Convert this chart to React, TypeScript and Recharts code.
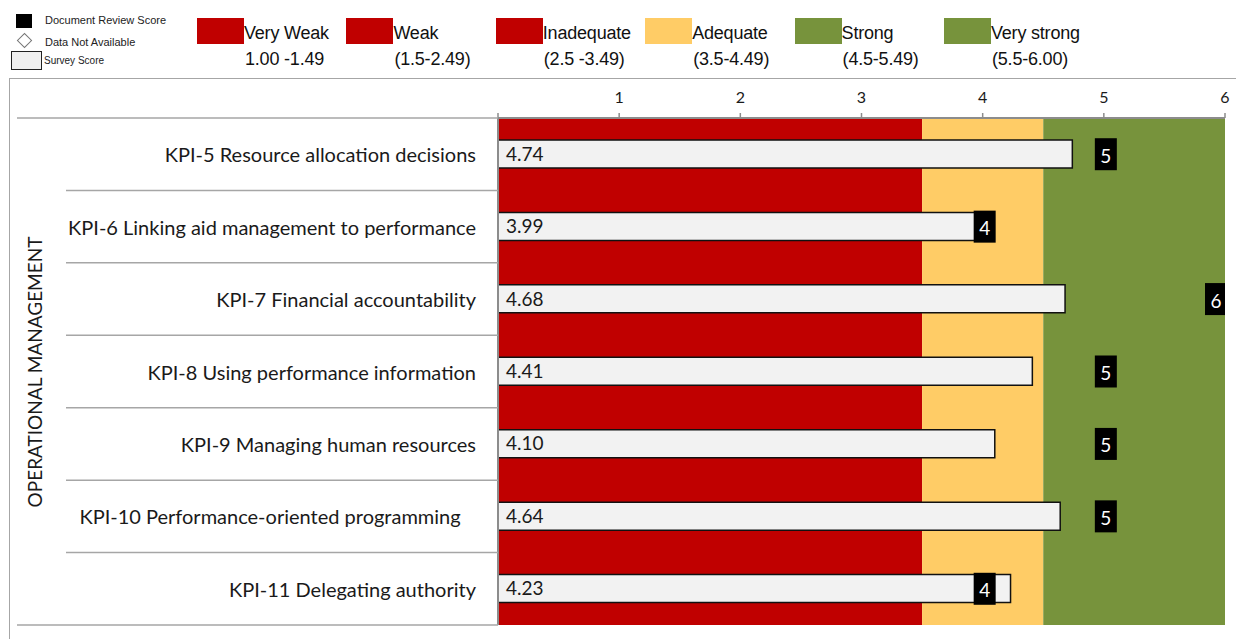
import React from "react";
import {
  ComposedChart,
  Bar,
  Line,
  XAxis,
  YAxis,
  ReferenceArea,
  LabelList,
} from "recharts";

const kpiNames = [
  "KPI-5 Resource allocation decisions",
  "KPI-6 Linking aid management to performance",
  "KPI-7 Financial accountability",
  "KPI-8 Using performance information",
  "KPI-9 Managing human resources",
  "KPI-10 Performance-oriented programming   ",
  "KPI-11 Delegating authority",
];
const surveyScores = [4.74, 3.99, 4.68, 4.41, 4.1, 4.64, 4.23];
const documentScores = [5, 4, 6, 5, 5, 5, 4];
const xTicks = [0, 1, 2, 3, 4, 5, 6];

const ratingNames = ["Very Weak", "Weak", "Inadequate", "Adequate", "Strong", "Very strong"];
const ratingRanges = ["1.00 -1.49", "(1.5-2.49)", "(2.5 -3.49)", "(3.5-4.49)", "(4.5-5.49)", "(5.5-6.00)"];
const ratingColors = ["#c00000", "#c00000", "#c00000", "#ffcc66", "#77933c", "#77933c"];

// background colour bands behind the bars
const bandStarts = [0, 3.5, 4.5];
const bandEnds = [3.5, 4.5, 6];
const bandColors = ["#c00000", "#ffcc66", "#77933c"];

const data = kpiNames.map((name, i) => ({
  name,
  survey: surveyScores[i],
  doc: documentScores[i],
}));

const W = 1236;
const H = 639;
const PLOT_TOP = 118;
const PLOT_BOTTOM = 625;
const PLOT_LEFT = 498;
const PLOT_RIGHT = 1225;
const ROW = (PLOT_BOTTOM - PLOT_TOP) / kpiNames.length;
const GRID = "#a6a6a6";
const LABEL_FONT = "Lato, 'Open Sans', sans-serif";
const LEGEND_FONT = "'Liberation Sans', Arial, sans-serif";

function KpiTick(props: any) {
  const { y, payload, index } = props;
  const last = index === kpiNames.length - 1;
  return (
    <g>
      <line x1={index === 0 ? 17 : 66} x2={PLOT_LEFT} y1={y - ROW / 2} y2={y - ROW / 2} stroke={GRID} strokeWidth={1.5} />
      {last && <line x1={17} x2={PLOT_LEFT} y1={y + ROW / 2} y2={y + ROW / 2} stroke={GRID} strokeWidth={1.5} />}
      <text
        x={476}
        y={y}
        textAnchor="end"
        dominantBaseline="central"
        fontFamily={LABEL_FONT}
        fontSize={20}
        fill="#1a1a1a"
        style={{ whiteSpace: "pre" }}
      >
        {payload.value}
      </text>
    </g>
  );
}

function ScoreTick(props: any) {
  const { x, payload } = props;
  if (payload.value === 0) return null;
  return (
    <text x={x} y={PLOT_TOP - 15} textAnchor="middle" fontFamily={LABEL_FONT} fontSize={16} fill="#1a1a1a">
      {payload.value}
    </text>
  );
}

function DocMarker(props: any) {
  const { cx, cy, value, index } = props;
  if (cx == null || cy == null) return null;
  const w = 22;
  const h = 32;
  const left = Math.min(cx - w / 2 + 2, PLOT_RIGHT + 2 - w);
  return (
    <g key={`doc-${index}`}>
      <rect x={left} y={cy - h / 2} width={w} height={h} fill="#000" />
      <text
        x={left + w / 2}
        y={cy + 1}
        textAnchor="middle"
        dominantBaseline="central"
        fontFamily={LABEL_FONT}
        fontSize={19}
        fill="#fff"
      >
        {value}
      </text>
    </g>
  );
}

function Legend() {
  const small: React.CSSProperties = {
    position: "absolute",
    fontFamily: LEGEND_FONT,
    fontSize: 11,
    color: "#222",
    lineHeight: "12px",
  };
  const big: React.CSSProperties = {
    position: "absolute",
    fontFamily: LEGEND_FONT,
    fontSize: 18,
    lineHeight: "20px",
    color: "#111",
    letterSpacing: -0.2,
  };
  return (
    <>
      <div style={{ position: "absolute", left: 16, top: 14, width: 16, height: 14, background: "#000" }} />
      <div style={{ ...small, left: 45, top: 14 }}>Document Review Score</div>
      <div
        style={{
          position: "absolute",
          left: 19,
          top: 35,
          width: 9,
          height: 9,
          border: "1.5px solid #777",
          transform: "rotate(45deg)",
          background: "#fff",
        }}
      />
      <div style={{ ...small, left: 45, top: 36 }}>Data Not Available</div>
      <div
        style={{
          position: "absolute",
          left: 11,
          top: 51,
          width: 29,
          height: 17,
          border: "1.5px solid #222",
          background: "#f0f0f0",
        }}
      />
      <div style={{ ...small, left: 44, top: 55, fontSize: 10 }}>Survey Score</div>

      {ratingNames.map((name, i) => {
        const left = 197 + i * 149.4;
        return (
          <React.Fragment key={name}>
            <div style={{ position: "absolute", left, top: 18, width: 47, height: 26, background: ratingColors[i] }} />
            <div style={{ ...big, left: left + 47, top: 23 }}>{name}</div>
            <div style={{ ...big, left: left + 48, top: 49 }}>{ratingRanges[i]}</div>
          </React.Fragment>
        );
      })}
    </>
  );
}

export default function App() {
  return (
    <div style={{ position: "absolute", left: 0, top: 0, width: W, height: H, background: "#fff", overflow: "hidden" }}>
      <div
        style={{
          position: "absolute",
          left: 9,
          top: 78,
          width: W,
          height: H,
          borderTop: `1.5px solid ${GRID}`,
          borderLeft: `1.5px solid ${GRID}`,
        }}
      />
      <Legend />
      <div
        style={{
          position: "absolute",
          left: 34,
          top: 372,
          transform: "translate(-50%, -50%) rotate(-90deg)",
          whiteSpace: "nowrap",
          fontFamily: LABEL_FONT,
          fontSize: 19,
          color: "#1a1a1a",
        }}
      >
        OPERATIONAL MANAGEMENT
      </div>
      <div style={{ position: "absolute", left: 0, top: 0 }}>
        <ComposedChart
          width={W}
          height={H}
          data={data}
          layout="vertical"
          barCategoryGap={0}
          margin={{ top: PLOT_TOP - 30, right: W - PLOT_RIGHT, bottom: H - PLOT_BOTTOM, left: 0 }}
        >
          <XAxis
            type="number"
            orientation="top"
            domain={[0, 6]}
            ticks={xTicks}
            height={30}
            axisLine={{ stroke: "#8c8c8c", strokeWidth: 2 }}
            tickLine={{ stroke: "#8c8c8c", strokeWidth: 1.5 }}
            tickSize={5}
            tick={<ScoreTick />}
            allowDataOverflow
          />
          <YAxis
            type="category"
            dataKey="name"
            width={PLOT_LEFT}
            axisLine={{ stroke: "#8c8c8c", strokeWidth: 2 }}
            tickLine={false}
            tick={<KpiTick />}
            interval={0}
          />
          {bandColors.map((c, i) => (
            <ReferenceArea
              key={i}
              x1={bandStarts[i]}
              x2={bandEnds[i]}
              fill={c}
              fillOpacity={1}
              stroke="none"
              ifOverflow="hidden"
            />
          ))}
          <Bar dataKey="survey" barSize={28} fill="#f2f2f2" stroke="#111" strokeWidth={1.5} isAnimationActive={false}>
            <LabelList
              dataKey="survey"
              position="insideLeft"
              offset={8}
              formatter={(v: any) => Number(v).toFixed(2)}
              style={{ fontFamily: LABEL_FONT, fontSize: 19, fill: "#1a1a1a" }}
            />
          </Bar>
          <Line
            dataKey="doc"
            stroke="none"
            dot={(p: any) => <DocMarker {...p} />}
            activeDot={false}
            isAnimationActive={false}
          />
        </ComposedChart>
      </div>
    </div>
  );
}
